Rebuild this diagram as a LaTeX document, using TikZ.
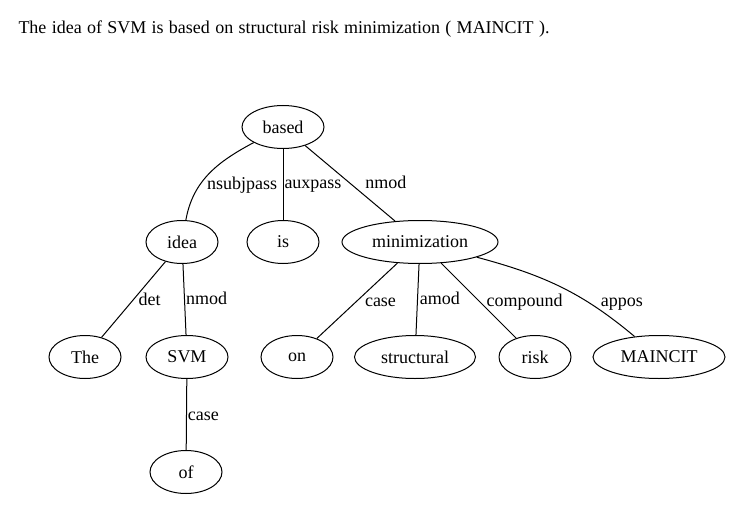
\documentclass[tikz,border=0pt]{standalone}
\usepackage{fontspec}
\setmainfont{Liberation Serif}
\usetikzlibrary{shapes.geometric,positioning}

\begin{document}
\begin{tikzpicture}[x=1pt,y=1pt,line width=1pt,
	  main node/.style={ellipse,draw,minimum width=72pt,minimum height=43pt,inner sep=0pt,font=\fontsize{18}{22}\selectfont}]

	\useasboundingbox (0,0) rectangle (730,504);
	\node[anchor=base west,inner sep=0pt,font=\fontsize{18}{22}\selectfont] (title) at (18,470) {\spaceskip=5.3pt plus 1pt The idea of SVM is based on structural risk minimization ( MAINCIT ).};

		\node[main node, minimum width=82pt] (based) at (283,377) {based};
		\node[main node] (idea) at (182,262) {idea};
		\node[main node] (is) at (283,262) {is};
		\node[main node, minimum width=156pt] (minimization) at (420,262) {minimization};
		\node[main node] (The) at (85,147) {The};
		\node[main node, minimum width=82pt] (SVM) at (187,147) {SVM};
		\node[main node] (on) at (297,147) {on};
		\node[main node, minimum width=121pt] (structural) at (415,147) {structural};
		\node[main node] (risk) at (535,147) {risk};
		\node[main node, minimum width=132pt] (MAINCIT) at (659,147) {MAINCIT};
		\node[main node] (of) at (186,32) {of};

	\path[every node/.style={font=\fontsize{18}{22}\selectfont,inner sep=0pt,text height=12pt,text depth=4pt}]
		(based) edge[out=208,in=80] node[pos=0.65,right=7pt] {nsubjpass} (idea)
			edge node[right=1pt] {auxpass} (is)
			edge node[pos=0.52,right=13pt] {nmod} (minimization)
		(idea) edge node[pos=0.52,right=6pt] {det} (The)
			edge node[pos=0.52,right=1pt] {nmod} (SVM)
		(SVM) edge node[pos=0.53,right=1pt] {case} (of)
		(minimization) edge node[pos=0.52,right=9pt] {case} (on)
			edge node[pos=0.52,right=2pt] {amod} (structural)
			edge node[pos=0.52,right=6pt] {compound} (risk)
			edge[out=-15,in=140] node[pos=0.69,right=12pt] {appos} (MAINCIT);

\end{tikzpicture}
\end{document}
